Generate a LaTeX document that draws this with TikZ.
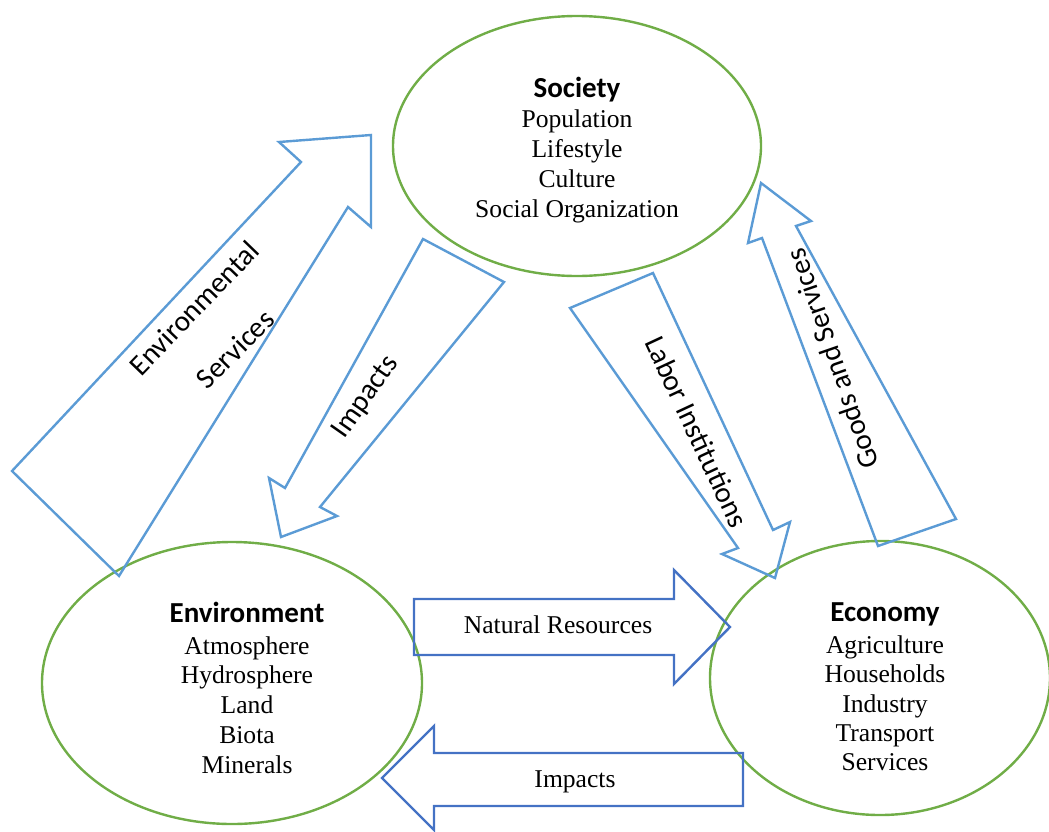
\documentclass[tikz,border=0pt]{standalone}
\usepackage{fontspec}
\setmainfont{Liberation Serif}
\newfontfamily\labelsans{Carlito}
\usetikzlibrary{shapes.geometric}

\definecolor{ringgreen}{HTML}{70AD47}
\definecolor{flowblue}{HTML}{5B9BD5}
\definecolor{deepblue}{HTML}{4472C4}

\begin{document}
\begin{tikzpicture}[x=0.5pt,y=-0.5pt,
  sphere/.style={draw=ringgreen, line width=1.2pt, ellipse, inner sep=0pt},
  blockarrow/.style={draw=flowblue, line width=1.2pt, line join=miter},
  flatarrow/.style={draw=deepblue, line width=1.2pt, line join=miter},
  heading/.style={font=\labelsans\fontsize{14.5}{17}\selectfont\bfseries, anchor=base, inner sep=0pt},
  item/.style={font=\fontsize{12.8}{15}\selectfont, anchor=base, inner sep=0pt},
  tag/.style={font=\labelsans\fontsize{14.6}{17}\selectfont, inner sep=0pt},
  ]
\useasboundingbox (0,0) rectangle (1049,831);
\clip (0,0) rectangle (1049,831);

% the three spheres
\node[sphere, minimum width=184pt, minimum height=130pt] (society) at (577,146) {};
\node[sphere, minimum width=190pt, minimum height=141pt] (environment) at (232,683) {};
\node[sphere, minimum width=170pt, minimum height=137pt] (economy) at (880,678) {};

% Society
\node[heading] (socT) at (577,97) {Society};
\node[item] (soc1) at (577,127) {Population};
\node[item] (soc2) at (577,157) {Lifestyle};
\node[item] (soc3) at (577,187) {Culture};
\node[item] (soc4) at (577,217) {Social Organization};

% Environment
\node[heading] (envT) at (247,622) {Environment};
\node[item] (env1) at (247,654) {Atmosphere};
\node[item] (env2) at (247,683) {Hydrosphere};
\node[item] (env3) at (247,713) {Land};
\node[item] (env4) at (247,743) {Biota};
\node[item] (env5) at (247,773) {Minerals};

% Economy
\node[heading] (ecoT) at (885,621) {Economy};
\node[item] (eco1) at (885,653) {Agriculture};
\node[item] (eco2) at (885,682) {Households};
\node[item] (eco3) at (885,712) {Industry};
\node[item] (eco4) at (885,741) {Transport};
\node[item] (eco5) at (885,770) {Services};

% block arrows between the spheres
% environment -> society
\draw[blockarrow] (279,142) -- (371,135) -- (371,227) -- (348,207) -- (119,576) -- (12,471) -- (301,162) -- cycle;
% society -> environment
\draw[blockarrow] (423,239) -- (504,282) -- (320,507) -- (337,516) -- (281,537) -- (269,478) -- (285,488) -- cycle;
% society -> economy
\draw[blockarrow] (570,308) -- (653,273) -- (773,530) -- (790,522) -- (775,578) -- (722,554) -- (738,548) -- cycle;
% economy -> society
\draw[blockarrow] (761,183) -- (811,221) -- (796,226) -- (956,519) -- (878,546) -- (762,238) -- (748,243) -- cycle;
% environment -> economy
\draw[flatarrow] (414,599) -- (674,599) -- (674,570) -- (730,627) -- (674,684) -- (674,655) -- (414,655) -- cycle;
% economy -> environment
\draw[flatarrow] (382,778) -- (434,726) -- (434,753) -- (743,753) -- (743,806) -- (434,806) -- (434,830) -- cycle;

% arrow labels
\node[tag, rotate=46] (esTag1) at (194,308) {Environmental};
\node[tag, rotate=45] (esTag2) at (235,349) {Services};
\node[tag, rotate=55] (imTag) at (366,397) {Impacts};
\node[tag, rotate=-65] (lbTag) at (697,432) {Labor Institutions};
\node[tag, rotate=109] (gsTag) at (832,359) {Goods and Services};
\node[item] (nrTag) at (558,633) {Natural Resources};
\node[item] (ipTag) at (575,787) {Impacts};
\end{tikzpicture}
\end{document}
